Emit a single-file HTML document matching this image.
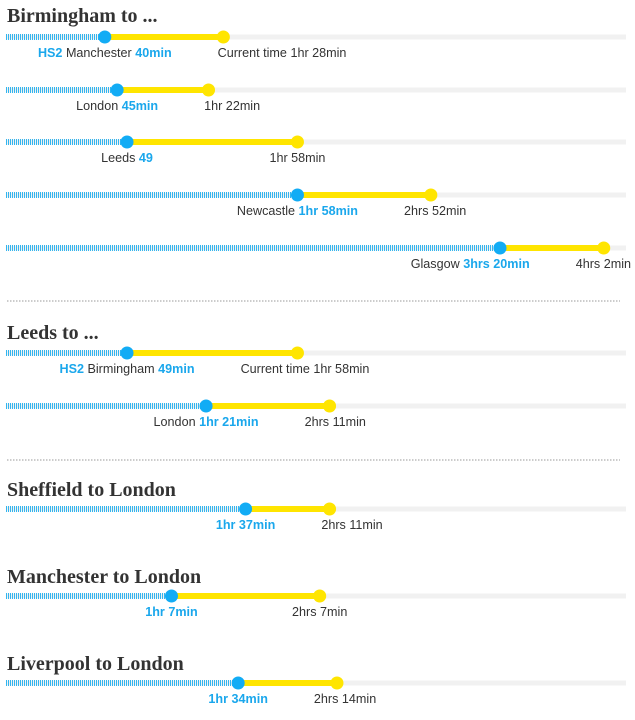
<!DOCTYPE html>
<html><head><meta charset="utf-8"><style>
body{margin:0;background:#fff;width:635px;height:715px;overflow:hidden}
svg text{font-family:"Liberation Sans",sans-serif}
.t{font-family:"Liberation Serif",serif;font-weight:bold;font-size:20px;fill:#333}
.l{font-size:12.6px;fill:#333}
.b{fill:#1aa7ec;font-weight:bold}
</style></head><body>
<svg id="c" width="635" height="715"></svg>
<script>
const routes=["Manchester","London","Leeds","Newcastle","Glasgow","Birmingham","London","Sheffield to London","Manchester to London","Liverpool to London"];
const hs2Minutes=[40,45,49,118,200,49,81,97,67,94];
const currentMinutes=[88,82,118,172,242,118,131,131,127,134];
const hs2Labels=["40min","45min","49","1hr 58min","3hrs 20min","49min","1hr 21min","1hr 37min","1hr 7min","1hr 34min"];
const currentLabels=["1hr 28min","1hr 22min","1hr 58min","2hrs 52min","4hrs 2min","1hr 58min","2hrs 11min","2hrs 11min","2hrs 7min","2hrs 14min"];
const rowY=[37,90,142,195,248,353,406,509,596,683];
const titles=[["Birmingham to ...",22],["Leeds to ...",339],["Sheffield to London",496],["Manchester to London",583],["Liverpool to London",670]];
const seps=[301,460];
const NS="http://www.w3.org/2000/svg",svg=document.getElementById('c');
const x=m=>6+m*2.47;
function el(t,a,p){const e=document.createElementNS(NS,t);for(const k in a)e.setAttribute(k,a[k]);(p||svg).appendChild(e);return e;}
titles.forEach((t,i)=>{const e=el('text',{x:7,y:t[1],class:'t'});e.textContent=t[0];

});
seps.forEach(y=>{const e=el('line',{x1:7,x2:620,y1:y,y2:y,stroke:'#999','stroke-dasharray':'1.5 1.5','stroke-width':1});

});
routes.forEach((r,i)=>{
 const y=rowY[i],xb=x(hs2Minutes[i]),xc=x(currentMinutes[i]);
 const g=el('g',{});
 
 
 el('rect',{x:6,y:y-2.5,width:620,height:5,fill:'#f1f1f1'},g);
 for(let t=6;t<xb;t+=2)el('rect',{x:t,y:y-3,width:1,height:6,fill:'#33b5ef'},g);
 const bar=el('rect',{x:xb,y:y-3,width:xc-xb,height:6,fill:'#ffe500'},g);
 
 
 const dc=el('circle',{cx:xc,cy:y,r:6.5,fill:'#ffe500'},g);
 
 
 const db=el('circle',{cx:xb,cy:y,r:6.5,fill:'#12acf5'},g);
 
 
 const ly=y+20;
 const tb=el('text',{x:0,y:ly,class:'l'},g);
 
 
 if(i==0||i==5){const s=el('tspan',{class:'b'},tb);s.textContent='HS2 ';}
 if(i<7){const s=el('tspan',{},tb);s.textContent=r+' ';}
 const s2=el('tspan',{class:'b'},tb);s2.textContent=hs2Labels[i];
 const tc=el('text',{x:0,y:ly,class:'l'},g);
 
 
 if(i==0||i==5){const s=el('tspan',{},tc);s.textContent='Current time ';}
 const s3=el('tspan',{},tc);s3.textContent=currentLabels[i];
 const wb=tb.getComputedTextLength(),wc=tc.getComputedTextLength();
 let bl=xb-wb/2,cl=xc-wc/2;
 if(cl<bl+wb+46)cl=bl+wb+46;
 if(cl+wc>631)cl=631-wc;
 if(bl+wb>cl-46)bl=cl-46-wb;
 tb.setAttribute('x',bl);tc.setAttribute('x',cl);
});
</script></body></html>
